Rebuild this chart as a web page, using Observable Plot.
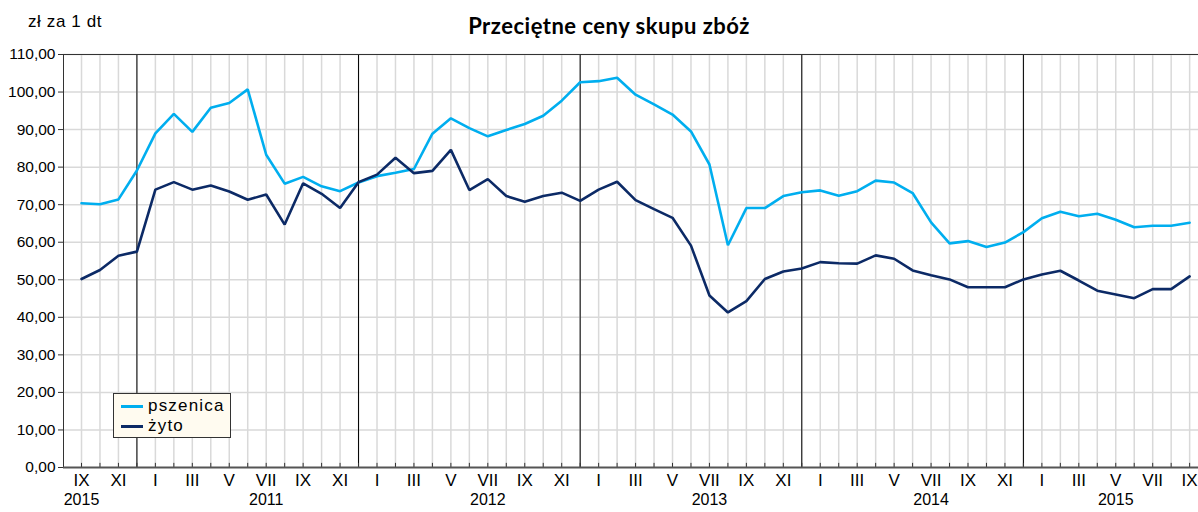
<!DOCTYPE html>
<html>
<head>
<meta charset="utf-8">
<script src="https://cdn.jsdelivr.net/npm/d3@7"></script>
<script src="https://cdn.jsdelivr.net/npm/@observablehq/plot@0.6"></script>
<style>
  body { margin: 0; background: #fff; }
  #wrap { position: relative; width: 1198px; height: 512px; }
  #head { position: relative; height: 40px; }
  #title { position: absolute; left: 0; width: 1218px; top: 12px; text-align: center;
           font-family: Lato, "Open Sans", sans-serif; font-weight: bold; font-size: 22px;
           letter-spacing: 0.5px; color: #000; }
  #unit { position: absolute; left: 28px; top: 12px; font-family: "Liberation Sans", Arial, sans-serif;
          font-size: 17px; letter-spacing: 0.6px; color: #000; }
  #legend { position: absolute; left: 113px; top: 393px; width: 118px; height: 45px;
            background: #fffbf0; border: 1px solid #333; box-sizing: border-box;
            font-family: "Liberation Sans", Arial, sans-serif; font-size: 17px; letter-spacing: 1.2px; color: #000; }
  .lrow { position: absolute; left: 7px; height: 18px; display: flex; align-items: center; }
  .lline { width: 22px; height: 3px; margin-right: 5px; }
</style>
</head>
<body>
<div id="wrap">
  <div id="head">
    <div id="unit">zł za 1 dt</div>
    <div id="title">Przeciętne ceny skupu zbóż</div>
  </div>
  <div id="chart"></div>
  <div id="legend"></div>
</div>
<script>
// Months IX 2010 .. IX 2015
const romans = ["I","II","III","IV","V","VI","VII","VIII","IX","X","XI","XII"];
const pszenica = [
  70.4, 70.1, 71.4, 79.1,
  89.0, 94.2, 89.4, 95.8, 97.1, 100.7, 83.3, 75.6, 77.4, 74.9, 73.6, 75.9,
  77.6, 78.5, 79.5, 88.9, 93.0, 90.4, 88.2, 89.9, 91.5, 93.7, 97.7, 102.6,
  102.9, 103.8, 99.3, 96.7, 94.0, 89.5, 80.7, 59.2, 69.1, 69.1, 72.3, 73.3,
  73.8, 72.4, 73.6, 76.4, 75.9, 73.1, 65.3, 59.7, 60.3, 58.7, 59.9, 62.7,
  66.4, 68.1, 66.9, 67.6, 66.0, 64.0, 64.4, 64.4, 65.2
];
const zyto = [
  50.2, 52.6, 56.4, 57.5,
  74.0, 76.0, 74.0, 75.1, 73.5, 71.3, 72.7, 64.7, 75.7, 72.9, 69.1, 76.0,
  78.0, 82.5, 78.4, 79.0, 84.6, 73.9, 76.8, 72.3, 70.8, 72.3, 73.2, 71.0,
  74.0, 76.1, 71.2, 68.8, 66.5, 59.1, 45.8, 41.3, 44.3, 50.2, 52.2, 53.0,
  54.7, 54.4, 54.3, 56.5, 55.6, 52.5, 51.2, 50.1, 48.0, 48.0, 48.0, 50.1,
  51.4, 52.4, 49.8, 47.1, 46.1, 45.1, 47.5, 47.5, 50.9
];
// year labels and the month index under which each is shown
const yearLabels = ["2015", "2011", "2012", "2013", "2014", "2015"];
const yearLabelIdx = [0, 10, 22, 34, 46, 56];
const yearBreakIdx = [3, 15, 27, 39, 51];
const yTicks = [0, 10, 20, 30, 40, 50, 60, 70, 80, 90, 100, 110];
const seriesNames = ["pszenica", "żyto"];
const colors = ["#00aeef", "#0c2a66"];

const n = pszenica.length;
const monthIdx = d3.range(n);
const monthLabel = monthIdx.map(i => romans[(i + 8) % 12]);
const rows = [];
monthIdx.forEach(i => {
  rows.push({i, v: pszenica[i], s: seriesNames[0]});
  rows.push({i, v: zyto[i], s: seriesNames[1]});
});
const fmt = v => v.toFixed(2).replace(".", ",");
const narrow = '"Liberation Sans Narrow", "Liberation Sans", Arial, sans-serif';
const x0 = -0.975;

const chart = Plot.plot({
  width: 1198,
  height: 472,
  marginLeft: 63,
  marginRight: 0,
  marginTop: 14,
  marginBottom: 45,
  style: {fontFamily: '"Liberation Sans", Arial, sans-serif', fontSize: "14px", color: "#000", background: "transparent", overflow: "visible"},
  x: {type: "linear", domain: [x0, 60.48], axis: null},
  y: {domain: [0, 110], axis: null},
  color: {domain: seriesNames, range: colors},
  marks: [
    Plot.ruleX(monthIdx, {stroke: "#d9d9d9", strokeWidth: 1.5}),
    Plot.ruleY(yTicks.slice(1), {stroke: "#d9d9d9", strokeWidth: 1.5}),
    Plot.ruleX(yearBreakIdx, {stroke: "#000", strokeWidth: 1}),
    Plot.ruleX(monthIdx, {y1: 0, y2: 1.1, stroke: "#333", strokeWidth: 1}),
    Plot.frame({anchor: "top", stroke: "#333"}),
    Plot.frame({anchor: "left", stroke: "#333"}),
    Plot.ruleY([0], {stroke: "#555", strokeWidth: 2}),
    Plot.ruleY(yTicks, {x1: x0 - 0.27, x2: x0, stroke: "#333"}),
    Plot.text(yTicks, {y: d => d, frameAnchor: "left", dx: -8, textAnchor: "end", text: fmt, fontSize: 15.5}),
    Plot.text(monthIdx.filter(i => i % 2 === 0), {x: d => d, frameAnchor: "bottom", dy: 18, text: i => monthLabel[i], fontSize: 17, fontFamily: narrow}),
    Plot.text(yearLabelIdx, {x: d => d, frameAnchor: "bottom", dy: 37, text: (d, k) => yearLabels[k], fontSize: 16, fontFamily: narrow}),
    Plot.line(rows, {x: "i", y: "v", z: "s", stroke: "s", strokeWidth: 2.6, strokeLinejoin: "miter"})
  ]
});
document.getElementById("chart").appendChild(chart);

const leg = document.getElementById("legend");
seriesNames.forEach((name, k) => {
  const r = document.createElement("div");
  r.className = "lrow";
  r.style.top = (3 + k * 20) + "px";
  r.innerHTML = `<div class="lline" style="background:${colors[k]}"></div><span>${name}</span>`;
  leg.appendChild(r);
});
</script>
</body>
</html>
